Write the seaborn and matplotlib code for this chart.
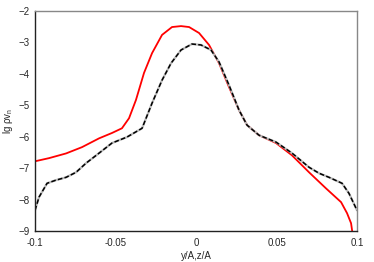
import numpy as np
import matplotlib
matplotlib.use('Agg')
import matplotlib.pyplot as plt
import seaborn as sns

# red curve
x_red = [-0.1, -0.0913, -0.0807, -0.0708, -0.0602, -0.0522, -0.046, -0.0416, -0.0373,
         -0.0323, -0.0273, -0.0211, -0.0149, -0.0093, -0.0043, 0.0019, 0.0081, 0.0143,
         0.0205, 0.0267, 0.0317, 0.0391, 0.0497, 0.0596, 0.0702, 0.0807, 0.0901,
         0.0938, 0.0963, 0.097]
y_red = [-6.78, -6.68, -6.53, -6.33, -6.05, -5.88, -5.73, -5.41, -4.83,
         -3.97, -3.34, -2.76, -2.51, -2.48, -2.51, -2.70, -3.08, -3.66,
         -4.42, -5.15, -5.63, -5.95, -6.2, -6.59, -7.13, -7.64, -8.08,
         -8.43, -8.75, -9.0]

# black dashed curve
x_blk = [-0.1, -0.0975, -0.0925, -0.087, -0.0807, -0.0745, -0.0683, -0.0602, -0.0522,
         -0.0429, -0.0335, -0.0273, -0.0211, -0.0155, -0.0093, -0.0025, 0.0031, 0.0093,
         0.0143, 0.0205, 0.0267, 0.0317, 0.0391, 0.0497, 0.0596, 0.0702, 0.0764,
         0.0826, 0.0907, 0.095, 0.1]
y_blk = [-8.34, -7.92, -7.48, -7.38, -7.29, -7.13, -6.84, -6.52, -6.2,
         -6.01, -5.73, -4.93, -4.2, -3.66, -3.24, -3.05, -3.08, -3.24,
         -3.62, -4.36, -5.15, -5.63, -5.95, -6.17, -6.52, -6.97, -7.16,
         -7.29, -7.48, -7.8, -8.34]

sns.set_style('white')
plt.rcParams['font.family'] = ['Liberation Sans', 'DejaVu Sans']

fig = plt.figure(figsize=(3.74, 2.62), dpi=100)
ax = fig.add_axes([0.0936, 0.118, 0.861, 0.840])

sns.lineplot(x=x_red, y=y_red, ax=ax, color='red', linewidth=1.3, sort=False)
sns.lineplot(x=x_blk, y=y_blk, ax=ax, color='#bbbbbb', linewidth=1.6, sort=False)
sns.lineplot(x=x_blk, y=y_blk, ax=ax, color='black', linewidth=1.1, sort=False,
             dashes=False, linestyle=(0, (3, 1.5)))

ax.set_xlim(-0.1, 0.1)
ax.set_ylim(-9, -2)
ax.set_xticks([-0.1, -0.05, 0, 0.05, 0.1])
ax.set_xticklabels(['-0.1', '-0.05', '0', '0.05', '0.1'])
ax.set_xticks([-0.075, -0.025, 0.025, 0.075], minor=True)
ax.set_yticks(range(-9, -1))
ax.tick_params(axis='both', which='both', direction='in', labelsize=7,
               length=2.5, width=0.6, color='#555555')
ax.tick_params(axis='x', which='both', pad=5)
ax.tick_params(axis='y', which='both', pad=4)
ax.tick_params(axis='x', which='minor', length=1.5)
ax.set_xlabel('y/A,z/A', fontsize=7, labelpad=2)
ax.set_ylabel('lg ρv$_\\mathregular{n}$', fontsize=7, labelpad=2)

for side in ['left', 'bottom']:
    ax.spines[side].set_color('#222222')
    ax.spines[side].set_linewidth(1.0)
for side in ['top', 'right']:
    ax.spines[side].set_color('#888888')
    ax.spines[side].set_linewidth(1.0)

fig.savefig('out.png', dpi=100)
